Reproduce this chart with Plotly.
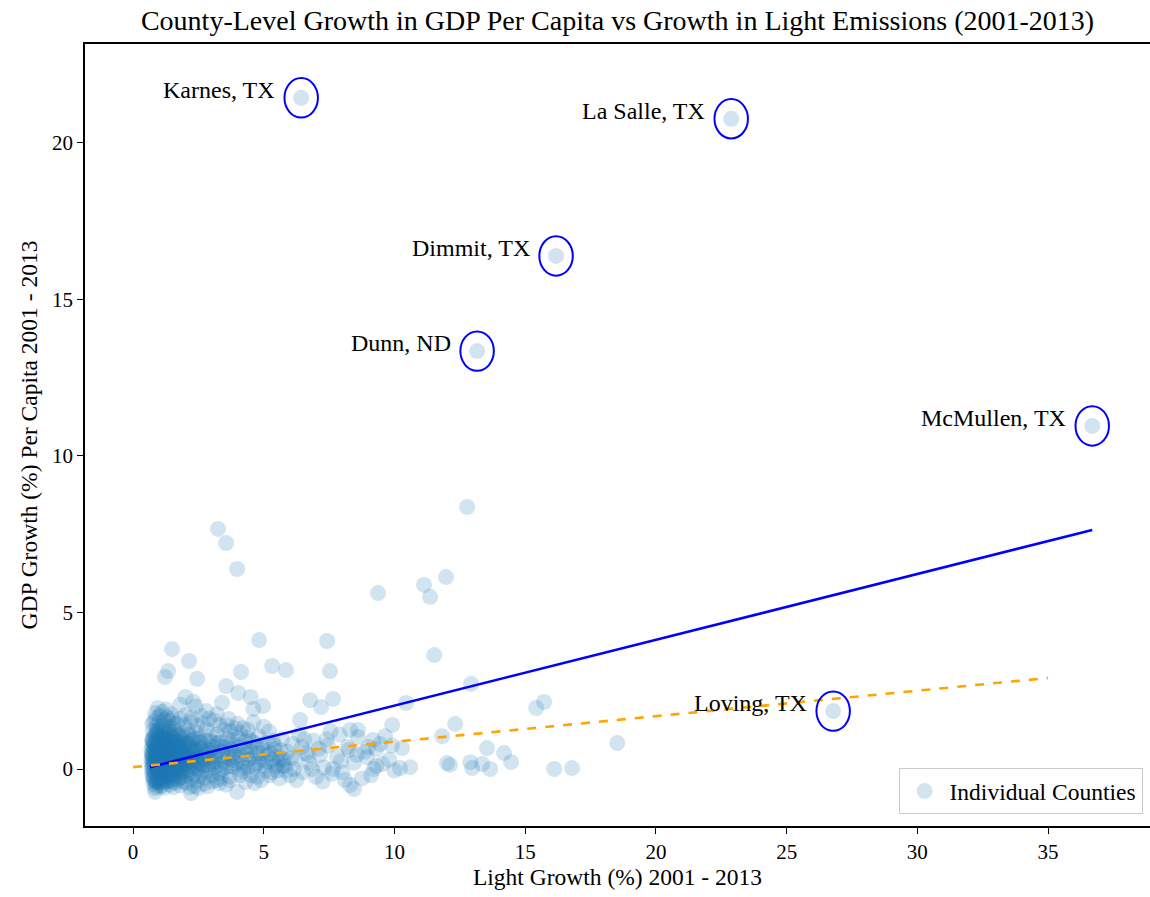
import plotly.graph_objects as go

TITLE = "County-Level Growth in GDP Per Capita vs Growth in Light Emissions (2001-2013)"
X_LABEL = "Light Growth (%) 2001 - 2013"
Y_LABEL = "GDP Growth (%) Per Capita 2001 - 2013"

# Dense core of counties (light growth %, GDP growth %)
core_points = [
    (0.85,1.78),(1.1,1.82),(1.45,1.75),(2.0,1.72),(2.6,1.70),(0.95,1.95),(1.3,1.65),
    (0.8,1.52),(1.0,1.48),(1.2,1.55),(1.55,1.45),(1.8,1.6),(2.2,1.5),(2.7,1.45),(3.1,1.55),(3.6,1.4),(0.9,1.38),(1.35,1.35),
    (0.75,1.22),(0.9,1.18),(1.05,1.25),(1.2,1.15),(1.4,1.2),(1.6,1.28),(1.85,1.12),(2.1,1.22),(2.4,1.18),(2.8,1.25),(3.2,1.1),(3.7,1.2),(4.1,1.15),(0.82,1.08),(1.15,1.05),(1.5,1.02),
    (0.72,0.92),(0.8,0.85),(0.88,0.95),(0.97,0.88),(1.05,0.98),(1.12,0.86),(1.22,0.93),(1.33,0.9),(1.45,0.85),(1.58,0.95),(1.7,0.88),(1.9,0.92),(2.05,0.84),(2.3,0.95),(2.55,0.87),(2.9,0.9),(3.3,0.85),(3.8,0.92),(4.3,0.88),(0.78,1.0),(1.0,0.78),(1.28,0.8),
    (0.7,0.62),(0.77,0.55),(0.84,0.66),(0.9,0.58),(0.96,0.7),(1.02,0.6),(1.08,0.52),(1.15,0.68),(1.22,0.57),(1.3,0.63),(1.38,0.7),(1.47,0.55),(1.55,0.65),(1.65,0.58),(1.78,0.68),(1.9,0.55),(2.02,0.63),(2.2,0.7),(2.4,0.56),(2.6,0.65),(2.85,0.6),(3.1,0.7),(3.4,0.55),(3.75,0.62),(4.2,0.58),(0.73,0.74),(0.93,0.77),(1.1,0.75),(1.4,0.77),(1.7,0.75),
    (0.7,0.32),(0.76,0.25),(0.82,0.38),(0.88,0.28),(0.94,0.35),(1.0,0.22),(1.06,0.4),(1.13,0.3),(1.2,0.24),(1.27,0.36),(1.35,0.28),(1.43,0.42),(1.52,0.3),(1.6,0.2),(1.7,0.35),(1.82,0.27),(1.95,0.4),(2.1,0.3),(2.28,0.22),(2.45,0.38),(2.65,0.28),(2.9,0.35),(3.15,0.25),(3.45,0.4),(3.8,0.3),(4.15,0.22),(0.74,0.45),(0.86,0.48),(0.98,0.46),(1.18,0.47),(1.32,0.48),(1.58,0.46),(1.88,0.47),(2.3,0.45),
    (0.72,0.02),(0.78,-0.05),(0.85,0.08),(0.91,-0.02),(0.97,0.1),(1.04,0.0),(1.1,0.12),(1.17,-0.06),(1.24,0.05),(1.31,0.14),(1.4,-0.03),(1.48,0.08),(1.57,0.0),(1.66,0.11),(1.76,-0.04),(1.87,0.06),(2.0,0.13),(2.14,-0.02),(2.3,0.08),(2.48,0.0),(2.68,0.1),(2.9,-0.05),(3.15,0.06),(3.4,-0.02),(3.7,0.1),(4.05,0.0),(4.4,0.05),(0.8,0.17),(1.0,0.16),(1.22,0.18),(1.45,0.15),
    (0.74,-0.22),(0.82,-0.3),(0.9,-0.18),(0.98,-0.28),(1.06,-0.2),(1.15,-0.32),(1.25,-0.22),(1.35,-0.27),(1.46,-0.17),(1.58,-0.3),(1.72,-0.2),(1.88,-0.26),(2.05,-0.18),(2.25,-0.3),(2.5,-0.22),(2.75,-0.28),(3.05,-0.2),(3.35,-0.3),(3.7,-0.24),(4.1,-0.19),(0.86,-0.1),(1.1,-0.12),(1.3,-0.1),(1.62,-0.12),
    (0.78,-0.48),(0.88,-0.55),(1.0,-0.45),(1.12,-0.52),(1.26,-0.42),(1.42,-0.5),(1.6,-0.44),(1.8,-0.52),(2.05,-0.45),(2.35,-0.55),(2.7,-0.47),(3.0,-0.4),(0.84,-0.62),(1.05,-0.38),(1.5,-0.38),
    (0.75,0.12),(0.79,0.7),(0.81,-0.15),(0.83,0.5),(0.87,1.1),(0.89,0.15),(0.92,0.42),(0.95,-0.08),(0.99,0.62),(1.01,0.33),(1.03,1.05),(1.07,-0.25),(1.09,0.85),(1.11,0.2),(1.14,0.55),(1.16,0.05),(1.19,0.95),(1.21,0.4),(1.23,-0.15),(1.26,0.72),(1.29,0.1),(1.32,1.1),(1.34,0.52),(1.37,-0.05),(1.39,0.88),(1.42,0.25),(1.44,0.65),(1.49,-0.2),(1.51,1.0),(1.54,0.38),(1.56,0.78),(1.61,0.12),(1.64,0.5),(1.68,-0.1),(1.73,0.9),(1.77,0.45),(1.81,0.15),(1.85,0.72),(1.9,-0.12),(1.94,1.05),(1.98,0.5),(2.08,0.2),(2.12,0.8),(2.18,-0.1),(2.24,0.55),(2.35,1.0),(2.42,0.12),(2.55,0.7),(2.62,-0.12),(2.78,0.45),(2.95,1.05),(3.05,0.15),(3.25,0.6),(3.55,0.05),(3.9,0.75),
    (0.71,0.5),(0.73,-0.1),(0.76,0.85),(0.8,0.3),(0.84,-0.38),(0.9,0.72),(0.93,0.05),(0.96,1.12),(1.04,0.45),(1.08,0.25),(1.13,-0.4),(1.18,0.62),(1.28,0.35),(1.36,0.95),(1.41,0.1),(1.47,0.5),(1.53,0.2),(1.63,0.7),(1.75,0.05),(1.83,0.35),(1.92,0.6),(2.02,0.35),(2.15,0.42),(2.38,0.3),(2.58,0.4),
]

# Extra counties in the darkest part of the cloud
dense_points = [
    (0.71,0.18),(0.74,0.95),(0.77,0.4),(0.79,-0.25),(0.82,0.78),(0.85,0.3),(0.87,-0.42),(0.89,0.55),(0.92,1.25),(0.94,0.18),(0.97,-0.35),(0.99,0.85),(1.02,0.05),(1.05,0.62),(1.07,1.35),(1.1,0.35),(1.12,-0.28),(1.15,0.9),(1.17,0.48),(1.2,-0.02),(1.23,1.2),(1.25,0.32),(1.28,-0.35),(1.31,0.68),(1.33,0.2),(1.36,1.3),(1.39,0.55),(1.42,-0.12),(1.45,0.92),(1.48,0.32),(1.52,0.7),(1.55,-0.05),(1.59,1.12),(1.62,0.38),(1.66,0.82),(1.7,0.12),(1.74,0.6),(1.78,-0.28),(1.82,1.0),(1.87,0.45),(1.91,0.15),(1.96,0.78),(2.01,-0.05),(2.06,0.42),(2.12,1.1),(2.18,0.25),(2.26,0.68),(2.33,-0.15),(2.41,0.5),(2.5,0.85),(2.58,0.2),(2.68,0.55),(2.76,0.92),(2.86,0.12),(2.96,0.6),(3.1,0.38),(3.22,0.82),(3.36,0.15),(3.5,0.7),(3.66,0.35),
]

# Extra counties in the band just right of the core
band_points = [
    (0.72,0.4),(0.77,0.08),(0.81,0.62),(0.86,0.2),(0.91,0.9),(0.95,0.3),(1.0,-0.1),(1.04,0.7),(1.09,0.38),(1.14,0.92),(1.19,0.15),(1.24,0.58),(1.3,-0.18),(1.35,0.75),(1.4,0.42),(1.46,1.08),(1.52,0.05),(1.59,0.6),(1.67,0.28),(1.74,1.1),(1.8,0.58),(1.86,-0.08),(1.93,0.28),(2.0,0.82),(2.07,0.52),(2.16,0.1),(2.22,0.9),(2.32,0.62),(2.44,0.25),(2.52,0.98),(2.6,0.15),(2.7,0.75),(2.8,-0.05),(2.88,0.5),(2.98,0.25),(3.08,0.85),(3.18,0.42),(3.28,-0.12),(3.38,0.72),(3.48,0.22),(3.6,0.5),(3.72,0.8),(3.82,0.08),(3.92,0.4),(4.02,1.0),(4.12,0.45),(4.22,-0.08),(4.32,0.65),(4.42,0.3),(4.52,0.9),(4.62,0.05),(4.72,0.5),(4.82,0.2),(4.92,0.78),(5.02,0.1),(5.12,0.45),(5.22,-0.2),(5.32,0.3),(5.42,0.62),(5.52,-0.05),(5.62,0.32),(5.72,0.1),
    (0.74,1.45),(0.88,1.62),(1.02,1.7),(1.18,1.4),(1.26,1.9),(1.36,1.55),(1.5,1.62),(1.68,1.45),(1.95,1.4),(2.25,1.65),(2.45,1.38),(2.9,1.6),(3.3,1.4),(3.9,1.3),(4.4,1.25),(0.76,-0.35),(0.9,-0.42),(1.03,-0.55),(1.2,-0.6),(1.38,-0.38),(1.55,-0.58),(1.72,-0.35),(1.95,-0.4),(2.15,-0.58),(2.45,-0.38),(2.85,-0.55),(3.2,-0.35),(3.55,-0.5),(4.3,-0.42),(4.75,-0.25),
]

# Moderately dense counties
mid_points = [
    (4.2,1.3),(4.35,0.45),(4.5,-0.2),(4.6,0.85),(4.7,0.15),(4.8,1.05),(4.9,-0.35),(5.0,0.6),(5.1,0.25),(5.2,1.2),(5.3,-0.1),(5.4,0.75),(5.5,0.4),(5.6,-0.3),(5.7,0.95),(5.8,0.1),(5.9,0.55),(6.0,-0.2),(6.1,0.8),(6.2,0.3),(6.35,1.1),(6.5,-0.1),(6.6,0.5),(6.75,0.2),(6.9,0.9),(7.0,-0.25),(7.15,0.45),(7.3,0.05),(7.45,0.75),(7.6,-0.15),
    (4.25,0.05),(4.4,1.0),(4.55,0.35),(4.65,-0.45),(4.75,0.7),(4.95,0.3),(5.05,-0.05),(5.25,0.5),(5.35,0.9),(5.55,0.15),(5.65,0.6),(5.85,-0.05),(6.05,0.35),(6.25,-0.35),(6.45,0.7),(6.7,0.45),(6.85,0.0),(7.1,0.65),
    (3.6,0.95),(3.7,-0.35),(3.85,0.5),(3.95,0.2),(4.05,0.7),(3.5,1.25),(3.3,-0.45),(4.45,0.6),(4.85,0.5),(5.15,0.85),(5.45,0.1),(5.75,0.3),(6.15,0.0),(6.55,0.95),(3.65,1.6),(4.0,1.45),(4.6,1.5),(5.0,1.35),(2.8,1.85),(3.2,1.75),(2.4,2.0),
]

# Sparse counties
sparse_points = [
    (7.4,0.95),(7.8,0.4),(8.0,-0.1),(8.2,0.7),(8.3,1.25),(8.45,0.2),(8.6,1.02),(8.75,-0.3),(8.95,0.38),(9.18,0.93),(9.3,0.1),(9.53,0.16),(9.64,1.05),(8.26,0.61),(8.3,-0.51),(8.45,-0.64),(7.9,1.1),(7.65,0.0),(8.1,-0.35),(9.0,0.7),(9.8,0.3),(7.25,-0.4),(7.55,1.2),(8.85,0.55),(9.45,0.8),(8.55,0.45),(7.95,0.25),(9.1,-0.2),(9.9,0.75),
    (3.25,7.67),(3.56,7.22),(3.98,6.39),(12.78,8.37),(11.13,5.88),(11.97,6.13),(11.36,5.50),(9.37,5.62),(11.52,3.64),(7.42,4.09),(7.53,3.13),(4.82,4.12),(5.32,3.29),(5.85,3.16),(1.49,3.83),(2.14,3.45),(1.34,3.13),(1.22,2.94),(4.13,3.10),(2.45,2.88),(4.02,2.43),(3.56,2.65),(12.93,2.72),(6.77,2.20),(7.65,2.24),(7.19,1.98),(6.39,1.57),(10.44,2.11),(15.42,1.95),(15.72,2.14),(12.32,1.44),(9.91,1.41),(11.82,1.05),(18.52,0.83),(9.30,0.64),(10.29,0.67),(13.54,0.67),(14.19,0.51),(14.46,0.22),(13.66,0.0),(16.11,0.0),(16.79,0.03),(12.97,0.03),(12.01,0.19),(12.12,0.13),(10.60,0.06),(10.21,0.03),(13.35,0.16),(12.9,0.22),(4.97,2.01),(4.6,1.92),(3.4,2.12),(4.5,2.3),(2.0,2.3),(2.3,2.15),(1.8,2.05),(3.98,-0.73),(2.22,-0.77),(2.49,-0.61),(0.84,-0.73),(8.6,1.25),(9.2,0.0),(10.0,-0.05),
]

# Labelled outlier counties
outlier_names = ["Karnes, TX", "La Salle, TX", "Dimmit, TX", "Dunn, ND", "McMullen, TX", "Loving, TX"]
outlier_x = [6.43, 22.88, 16.18, 13.16, 36.69, 26.78]
outlier_y = [21.44, 20.77, 16.39, 13.35, 10.96, 1.85]

# Fitted lines (intercept, slope, x-range)
ols_intercept, ols_slope = -0.077, 0.2103
ols_x_range = [0.65, 36.69]
robust_intercept, robust_slope = 0.06, 0.0814
robust_x_range = [0.0, 35.0]

all_pts = core_points + dense_points + band_points + mid_points + sparse_points
xs = [p[0] for p in all_pts] + outlier_x
ys = [p[1] for p in all_pts] + outlier_y

FONT = "Liberation Serif, Times New Roman, serif"

fig = go.Figure()
fig.add_trace(go.Scatter(
    x=xs, y=ys, mode="markers", name="Individual Counties",
    marker=dict(size=16, color="rgba(31,119,180,0.2)", line=dict(width=0)),
))
fig.add_trace(go.Scatter(
    x=ols_x_range, y=[ols_intercept + ols_slope * v for v in ols_x_range],
    mode="lines", line=dict(color="#0000FF", width=2.6), showlegend=False,
))
fig.add_trace(go.Scatter(
    x=robust_x_range, y=[robust_intercept + robust_slope * v for v in robust_x_range],
    mode="lines", line=dict(color="#FFA500", width=2.6, dash="dash"), showlegend=False,
))

rx, ry = 0.64, 0.63
shapes = []
annotations = []
for name, cx, cy in zip(outlier_names, outlier_x, outlier_y):
    shapes.append(dict(type="circle", xref="x", yref="y",
                       x0=cx - rx, x1=cx + rx, y0=cy - ry, y1=cy + ry,
                       line=dict(color="#0000FF", width=2), layer="above"))
    annotations.append(dict(x=cx, y=cy, xref="x", yref="y", text=name,
                            showarrow=False, xanchor="right", yanchor="middle",
                            xshift=-24, yshift=8,
                            font=dict(family=FONT, size=24, color="black")))

axis_common = dict(showgrid=False, zeroline=False, showline=True,
                   linecolor="black", linewidth=1.5, ticks="outside", ticklen=6,
                   tickwidth=1.2, tickcolor="black",
                   tickfont=dict(family=FONT, size=21, color="black"))

fig.update_layout(
    width=1150, height=897,
    margin=dict(l=85, r=0, t=44, b=71),
    plot_bgcolor="white", paper_bgcolor="white",
    title=dict(text=TITLE, x=0.537, xanchor="center", y=0.978, yanchor="middle",
               font=dict(family=FONT, size=28, color="black")),
    xaxis=dict(range=[-1.84, 38.9], tickvals=[0, 5, 10, 15, 20, 25, 30, 35],
               mirror=True,
               title=dict(text=X_LABEL, font=dict(family=FONT, size=23.5, color="black"), standoff=6),
               **axis_common),
    yaxis=dict(range=[-1.82, 23.16], tickvals=[0, 5, 10, 15, 20],
               mirror=False,
               title=dict(text=Y_LABEL, font=dict(family=FONT, size=23.5, color="black"), standoff=8),
               **axis_common),
    legend=dict(x=0.993, y=0.015, xanchor="right", yanchor="bottom",
                bgcolor="white", bordercolor="#cccccc", borderwidth=1,
                itemwidth=40,
                font=dict(family=FONT, size=23.5, color="black")),
    shapes=shapes, annotations=annotations,
)

fig.write_html("out.html", config={"displayModeBar": False},
               post_script="document.body.style.margin='0px';")
